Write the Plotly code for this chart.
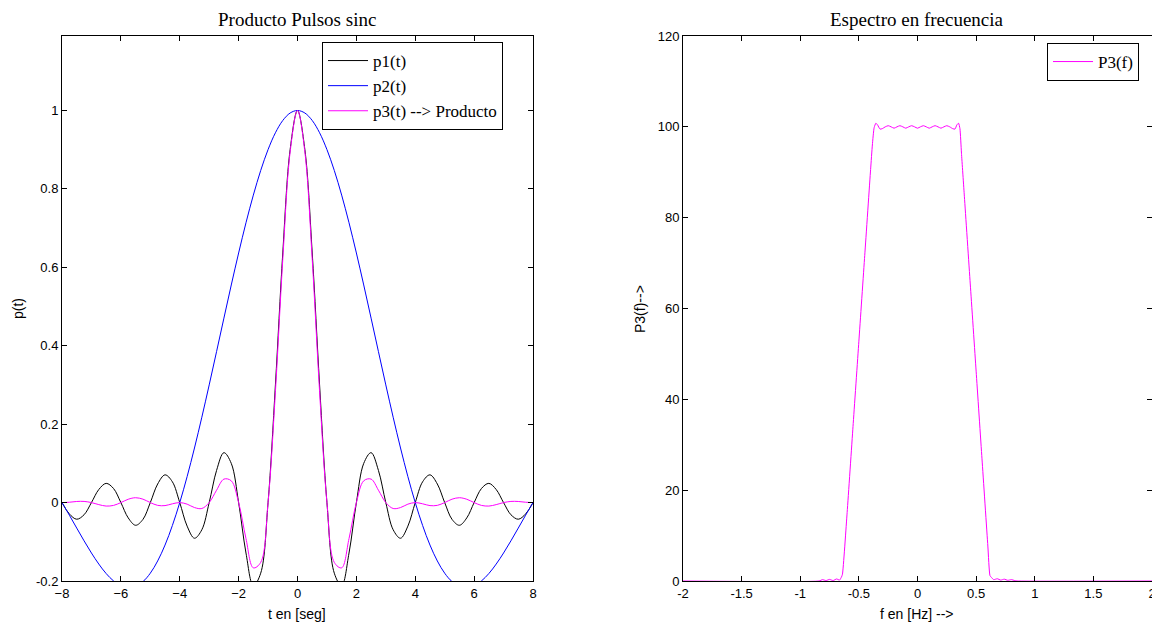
import plotly.graph_objects as go

# ---- Left panel data: time axis and pulse values ----
t = [-8.0, -7.75, -7.5, -7.25, -7.0, -6.75, -6.5, -6.25, -6.0, -5.75, -5.5, -5.25,
     -5.0, -4.75, -4.5, -4.25, -4.0, -3.75, -3.5, -3.25, -3.0, -2.75, -2.5, -2.25,
     -2.0, -1.75, -1.5, -1.25, -1.0, -0.75, -0.5, -0.25, 0.0, 0.25, 0.5, 0.75,
     1.0, 1.25, 1.5, 1.75, 2.0, 2.25, 2.5, 2.75, 3.0, 3.25, 3.5, 3.75,
     4.0, 4.25, 4.5, 4.75, 5.0, 5.25, 5.5, 5.75, 6.0, 6.25, 6.5, 6.75,
     7.0, 7.25, 7.5, 7.75, 8.0]

p1 = [0.0, -0.029, -0.0424, -0.031, 0.0, 0.0333, 0.049, 0.036, 0.0, -0.0391, -0.0579, -0.0429,
      0.0, 0.0474, 0.0707, 0.053, 0.0, -0.060, -0.0909, -0.0693, 0.0, 0.0819, 0.1273, 0.100,
      0.0, -0.1286, -0.2122, -0.1801, 0.0, 0.3001, 0.6366, 0.9003, 1.0, 0.9003, 0.6366, 0.3001,
      0.0, -0.1801, -0.2122, -0.1286, 0.0, 0.100, 0.1273, 0.0819, 0.0, -0.0693, -0.0909, -0.060,
      0.0, 0.053, 0.0707, 0.0474, 0.0, -0.0429, -0.0579, -0.0391, 0.0, 0.036, 0.049, 0.0333,
      0.0, -0.031, -0.0424, -0.029, 0.0]

p2 = [0.0, -0.0321, -0.0650, -0.0976, -0.1286, -0.1568, -0.1810, -0.1998, -0.2122, -0.2172, -0.2139, -0.2017,
      -0.1801, -0.1489, -0.1083, -0.0584, 0.0, 0.0662, 0.1392, 0.2177, 0.3001, 0.3850, 0.4705, 0.5550,
      0.6366, 0.7136, 0.7842, 0.8470, 0.9003, 0.9432, 0.9745, 0.9936, 1.0, 0.9936, 0.9745, 0.9432,
      0.9003, 0.8470, 0.7842, 0.7136, 0.6366, 0.5550, 0.4705, 0.3850, 0.3001, 0.2177, 0.1392, 0.0662,
      0.0, -0.0584, -0.1083, -0.1489, -0.1801, -0.2017, -0.2139, -0.2172, -0.2122, -0.1998, -0.1810, -0.1568,
      -0.1286, -0.0976, -0.0650, -0.0321, 0.0]

p3 = [0.0, 0.0009, 0.0028, 0.0030, 0.0, -0.0052, -0.0089, -0.0072, 0.0, 0.0085, 0.0124, 0.0087,
      0.0, -0.0071, -0.0077, -0.0031, 0.0, -0.0040, -0.0127, -0.0151, 0.0, 0.0315, 0.0599, 0.0555,
      0.0, -0.0918, -0.1664, -0.1525, 0.0, 0.2831, 0.6204, 0.8943, 1.0, 0.8943, 0.6204, 0.2831,
      0.0, -0.1525, -0.1664, -0.0918, 0.0, 0.0555, 0.0599, 0.0315, 0.0, -0.0151, -0.0127, -0.0040,
      0.0, -0.0031, -0.0077, -0.0071, 0.0, 0.0087, 0.0124, 0.0085, 0.0, -0.0072, -0.0089, -0.0052,
      0.0, 0.0030, 0.0028, 0.0009, 0.0]

# ---- Right panel data: frequency axis and spectrum magnitude ----
f = [-2.0, -0.84, -0.81, -0.78, -0.75, -0.72, -0.69, -0.665, -0.648, -0.64,
     -0.60, -0.55, -0.50, -0.45, -0.40, -0.385, -0.37, -0.355, -0.34, -0.32,
     -0.30, -0.275, -0.25, -0.225, -0.20, -0.175, -0.15, -0.125, -0.10, -0.075,
     -0.05, -0.025, 0.0, 0.025, 0.05, 0.075, 0.10, 0.125, 0.15, 0.175,
     0.20, 0.225, 0.25, 0.275, 0.30, 0.32, 0.335, 0.35, 0.362, 0.375,
     0.40, 0.45, 0.50, 0.55, 0.60, 0.618, 0.63, 0.65, 0.68, 0.71,
     0.74, 0.77, 0.80, 0.83, 0.86, 2.0]

P3 = [0.0, 0.0, 0.3, 0.1, 0.35, 0.1, 0.45, 0.2, 0.9, 1.5,
      15.1, 34.0, 52.8, 71.7, 90.6, 96.0, 99.8, 100.8, 100.4, 99.5,
      99.6, 100.0, 100.25, 100.0, 99.7, 100.0, 100.25, 100.0, 99.7, 100.0,
      100.25, 100.0, 99.7, 100.0, 100.25, 100.0, 99.7, 100.0, 100.25, 100.0,
      99.7, 100.0, 100.25, 100.0, 99.6, 99.5, 100.4, 100.8, 99.6, 94.2,
      84.6, 65.4, 46.2, 26.9, 7.7, 1.2, 0.8, 0.3, 0.5, 0.2,
      0.4, 0.15, 0.3, 0.1, 0.0, 0.0]

BLACK = "#000000"
SERIF = "Liberation Serif, Times New Roman, serif"
SANS = "Liberation Sans, Arial, sans-serif"

fig = go.Figure()
fig.add_trace(go.Scatter(x=t, y=p1, mode="lines", name="p1(t)",
                         line=dict(color="#000000", width=1, shape="spline", smoothing=1),
                         xaxis="x", yaxis="y", legend="legend"))
fig.add_trace(go.Scatter(x=t, y=p2, mode="lines", name="p2(t)",
                         line=dict(color="#0000FF", width=1, shape="spline", smoothing=1),
                         xaxis="x", yaxis="y", legend="legend"))
fig.add_trace(go.Scatter(x=t, y=p3, mode="lines", name="p3(t) --> Producto",
                         line=dict(color="#FF00FF", width=1, shape="spline", smoothing=1),
                         xaxis="x", yaxis="y", legend="legend"))
fig.add_trace(go.Scatter(x=f, y=P3, mode="lines", name="P3(f)",
                         line=dict(color="#FF00FF", width=1, shape="spline", smoothing=0.5),
                         xaxis="x2", yaxis="y2", legend="legend2"))

W, H = 1160, 626
OFF = 8  # page body margin in the browser
def px(x):
    return (x - OFF) / W
def py(y):
    return 1 - (y - OFF) / H

axis_common = dict(showline=True, linecolor=BLACK, linewidth=1, mirror="ticks",
                   ticks="inside", ticklen=5, tickcolor=BLACK, tickwidth=1,
                   showgrid=False, zeroline=False, automargin=False,
                   tickfont=dict(family=SANS, size=13, color=BLACK))

yt1 = [-0.2, 0, 0.2, 0.4, 0.6, 0.8, 1]
xt2 = [-2, -1.5, -1, -0.5, 0, 0.5, 1, 1.5, 2]

fig.update_layout(
    width=W, height=H,
    margin=dict(l=0, r=0, t=0, b=0, pad=0, autoexpand=False),
    paper_bgcolor="white", plot_bgcolor="white",
    xaxis=dict(domain=[px(62), px(533)], range=[-8, 8], tickvals=list(range(-8, 9, 2)),
               anchor="y", **axis_common),
    yaxis=dict(domain=[py(581), py(36)], range=[-0.2, 1.19], tickvals=yt1,
               ticktext=[str(v) for v in yt1], anchor="x", **axis_common),
    xaxis2=dict(domain=[px(683), px(1152)], range=[-2, 2], tickvals=xt2,
                ticktext=[("%g" % v) for v in xt2], anchor="y2", **axis_common),
    yaxis2=dict(domain=[py(581), py(36)], range=[0, 120], tickvals=list(range(0, 121, 20)),
                anchor="x2", **axis_common),
    legend=dict(x=px(322), y=py(42), xanchor="left", yanchor="top",
                bordercolor=BLACK, borderwidth=1, bgcolor="white",
                font=dict(family=SERIF, size=17, color=BLACK),
                itemwidth=40, tracegroupgap=0),
    legend2=dict(x=px(1047), y=py(43), xanchor="left", yanchor="top",
                 bordercolor=BLACK, borderwidth=1, bgcolor="white",
                 font=dict(family=SERIF, size=17, color=BLACK),
                 itemwidth=40),
    showlegend=True,
    annotations=[
        dict(text="Producto Pulsos sinc", x=px(297), y=py(8.5), xref="paper", yref="paper",
             showarrow=False, font=dict(family=SERIF, size=19, color=BLACK),
             xanchor="center", yanchor="top", borderpad=0),
        dict(text="Espectro en frecuencia", x=px(917), y=py(8.5), xref="paper", yref="paper",
             showarrow=False, font=dict(family=SERIF, size=19, color=BLACK),
             xanchor="center", yanchor="top", borderpad=0),
        dict(text="t en [seg]", x=px(297), y=py(614), xref="paper", yref="paper",
             showarrow=False, font=dict(family=SANS, size=14, color=BLACK),
             xanchor="center", yanchor="middle"),
        dict(text="f en [Hz] -->", x=px(917), y=py(614), xref="paper", yref="paper",
             showarrow=False, font=dict(family=SANS, size=14, color=BLACK),
             xanchor="center", yanchor="middle"),
        dict(text="p(t)", x=px(18), y=py(309), xref="paper", yref="paper",
             showarrow=False, font=dict(family=SANS, size=14, color=BLACK),
             textangle=-90, xanchor="center", yanchor="middle"),
        dict(text="P3(f)-->", x=px(640), y=py(309), xref="paper", yref="paper",
             showarrow=False, font=dict(family=SANS, size=14, color=BLACK),
             textangle=-90, xanchor="center", yanchor="middle"),
    ],
)

fig.write_html("out.html")
